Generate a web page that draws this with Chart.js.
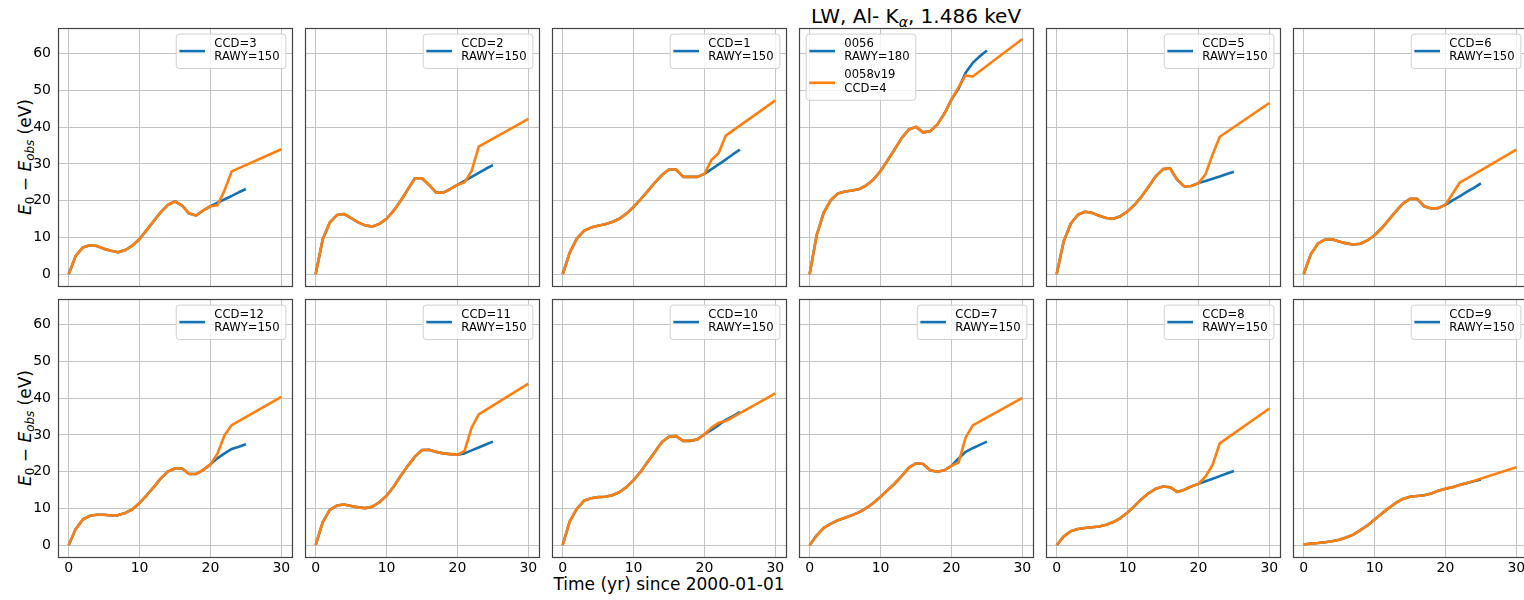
<!DOCTYPE html>
<html>
<head>
<meta charset="utf-8">
<script src="https://cdn.jsdelivr.net/npm/chart.js@4.4.1/dist/chart.umd.min.js"></script>
<style>
  html, body { margin: 0; padding: 0; background: #fff; width: 1524px; height: 600px; overflow: hidden; position: relative; }
  canvas { position: absolute; }
  .txt { position: absolute; font-family: "DejaVu Sans", sans-serif; color: #000; white-space: nowrap; }
  .txt sub { font-size: 70%; vertical-align: -0.28em; line-height: 0; }
  .ylab { font-size: 17px; line-height: 20px; transform: translate(-50%, -50%) rotate(-90deg); }
</style>
</head>
<body>
<div class="txt" style="left:799px;width:234px;top:4px;text-align:center;font-size:20px;line-height:24px;">LW, Al- K<sub><i>α</i></sub>, 1.486 keV</div>
<div class="txt ylab" style="left:25px;top:157px;"><i>E</i><sub>0</sub> − <i>E</i><sub><i>obs</i></sub> (eV)</div>
<div class="txt ylab" style="left:25px;top:428px;"><i>E</i><sub>0</sub> − <i>E</i><sub><i>obs</i></sub> (eV)</div>
<div class="txt" style="left:552px;width:234px;top:574px;text-align:center;font-size:17px;line-height:20px;">Time (yr) since 2000-01-01</div>

<script>
// Time axis (years since 2000-01-01)
const YEARS_OBS   = [0,1,2,3,4,5,6,7,8,9,10,11,12,13,14,15,16,17,18,19,20,21,22,23,24,25];
const YEARS_MODEL = [0,1,2,3,4,5,6,7,8,9,10,11,12,13,14,15,16,17,18,19,20,21,22,23,30];
const X_TICKS = [0, 10, 20, 30];
const Y_TICKS = [0, 10, 20, 30, 40, 50, 60];

// E0 - Eobs (eV) per chip, first row
const CCD3_OBS    = [0,5.0,7.3,7.9,7.7,6.9,6.4,6.0,6.6,7.8,9.6,12.0,14.5,16.9,18.9,19.8,18.7,16.5,16.0,17.4,18.5,19.5,20.4,21.3,22.3,23.2];
const CCD3_MODEL  = [0,5.0,7.3,7.9,7.7,6.9,6.4,6.0,6.6,7.8,9.6,12.0,14.5,16.9,18.9,19.8,18.7,16.5,16.0,17.4,18.5,18.8,22.9,28.0,34.0];
const CCD2_OBS    = [0,9.5,14.1,16.1,16.4,15.3,14.1,13.3,13.0,13.7,15.1,17.3,20.0,23.1,26.1,26.1,24.3,22.2,22.2,23.2,24.3,25.4,26.5,27.6,28.7,29.7];
const CCD2_MODEL  = [0,9.5,14.1,16.1,16.4,15.3,14.1,13.3,13.0,13.7,15.1,17.3,20.0,23.1,26.1,26.1,24.3,22.2,22.2,23.2,24.3,25.0,28.1,34.7,42.3];
const CCD1_OBS    = [0,5.9,9.7,11.8,12.7,13.2,13.6,14.2,15.1,16.5,18.3,20.4,22.6,24.9,27.0,28.5,28.5,26.5,26.5,26.5,27.3,28.6,29.9,31.2,32.6,33.9];
const CCD1_MODEL  = [0,5.9,9.7,11.8,12.7,13.2,13.6,14.2,15.1,16.5,18.3,20.4,22.6,24.9,27.0,28.5,28.5,26.5,26.5,26.5,27.3,31.1,33.0,37.7,47.3];
const CCD4_OBS    = [0,10.7,16.8,20.2,22.0,22.5,22.8,23.2,24.2,25.8,28.1,31.0,34.0,37.1,39.4,40.1,38.6,38.9,40.7,43.7,47.5,50.5,54.8,57.5,59.3,60.9];
const CCD4_MODEL  = [0,10.7,16.8,20.2,22.0,22.5,22.8,23.2,24.2,25.8,28.1,31.0,34.0,37.1,39.4,40.1,38.6,38.9,40.7,43.7,47.5,50.9,54.1,53.8,64.0];
const CCD5_OBS    = [0,9.0,13.8,16.2,17.0,16.7,15.9,15.3,15.1,15.8,17.1,18.9,21.2,23.9,26.7,28.6,28.8,25.7,23.9,24.0,24.8,25.4,26.0,26.6,27.3,27.9];
const CCD5_MODEL  = [0,9.0,13.8,16.2,17.0,16.7,15.9,15.3,15.1,15.8,17.1,18.9,21.2,23.9,26.7,28.6,28.8,25.7,23.9,24.0,24.8,27.2,32.6,37.4,46.6];
const CCD6_OBS    = [0,5.4,8.3,9.4,9.5,8.9,8.4,8.1,8.3,9.2,10.6,12.5,14.8,17.1,19.2,20.5,20.5,18.5,17.9,18.0,18.9,20.1,21.2,22.4,23.5,24.7];
const CCD6_MODEL  = [0,5.4,8.3,9.4,9.5,8.9,8.4,8.1,8.3,9.2,10.6,12.5,14.8,17.1,19.2,20.5,20.5,18.5,17.9,18.0,18.9,21.9,24.9,26.0,33.9];

// second row
const CCD12_OBS   = [0,4.4,7.0,8.0,8.3,8.3,8.1,8.2,8.8,9.8,11.5,13.6,15.8,18.2,20.1,20.9,20.9,19.4,19.4,20.5,22.0,23.7,25.0,26.2,26.8,27.5];
const CCD12_MODEL = [0,4.4,7.0,8.0,8.3,8.3,8.1,8.2,8.8,9.8,11.5,13.6,15.8,18.2,20.1,20.9,20.9,19.4,19.4,20.5,22.0,25.0,30.0,32.7,40.4];
const CCD11_OBS   = [0,6.3,9.6,10.8,11.1,10.7,10.3,10.1,10.5,11.7,13.5,15.9,18.9,21.6,24.1,25.9,26.0,25.4,25.0,24.8,24.6,25.0,25.8,26.6,27.4,28.2];
const CCD11_MODEL = [0,6.3,9.6,10.8,11.1,10.7,10.3,10.1,10.5,11.7,13.5,15.9,18.9,21.6,24.1,25.9,26.0,25.4,25.0,24.8,24.6,25.7,32.0,35.6,44.0];
const CCD10_OBS   = [0,6.5,9.9,12.1,12.8,13.1,13.2,13.6,14.4,15.8,17.7,20.0,22.7,25.4,28.1,29.5,29.7,28.4,28.4,28.8,30.2,31.4,32.7,34.1,35.1,36.3];
const CCD10_MODEL = [0,6.5,9.9,12.1,12.8,13.1,13.2,13.6,14.4,15.8,17.7,20.0,22.7,25.4,28.1,29.5,29.7,28.4,28.4,28.8,30.2,32.0,33.3,33.8,41.3];
const CCD7_OBS    = [0,2.7,4.7,5.9,6.8,7.5,8.2,9.0,10.1,11.5,13.2,15.0,16.8,18.9,21.1,22.3,22.1,20.4,20.0,20.4,21.6,23.6,25.4,26.4,27.3,28.2];
const CCD7_MODEL  = [0,2.7,4.7,5.9,6.8,7.5,8.2,9.0,10.1,11.5,13.2,15.0,16.8,18.9,21.1,22.3,22.1,20.4,20.0,20.4,21.6,22.5,29.3,32.6,40.1];
const CCD8_OBS    = [0,2.4,3.8,4.4,4.7,4.9,5.1,5.6,6.3,7.4,8.9,10.7,12.6,14.2,15.4,16.0,15.8,14.5,15.1,16.0,16.7,17.4,18.1,18.8,19.5,20.2];
const CCD8_MODEL  = [0,2.4,3.8,4.4,4.7,4.9,5.1,5.6,6.3,7.4,8.9,10.7,12.6,14.2,15.4,16.0,15.8,14.5,15.1,16.0,16.7,18.7,21.9,27.7,37.2];
const CCD9_OBS    = [0.2,0.45,0.6,0.8,1.1,1.5,2.1,2.9,4.1,5.4,7.0,8.6,10.1,11.5,12.6,13.2,13.4,13.6,14.1,14.8,15.4,15.8,16.4,16.9,17.4,17.9];
const CCD9_MODEL  = [0.2,0.45,0.6,0.8,1.1,1.5,2.1,2.9,4.1,5.4,7.0,8.6,10.1,11.5,12.6,13.2,13.4,13.6,14.1,14.8,15.4,15.8,16.4,16.9,21.2];

// legend texts
const OBS_LABELS = ['CCD=3\nRAWY=150','CCD=2\nRAWY=150','CCD=1\nRAWY=150','0056\nRAWY=180','CCD=5\nRAWY=150','CCD=6\nRAWY=150',
                    'CCD=12\nRAWY=150','CCD=11\nRAWY=150','CCD=10\nRAWY=150','CCD=7\nRAWY=150','CCD=8\nRAWY=150','CCD=9\nRAWY=150'];
const MODEL_LABELS = ['','','','0058v19\nCCD=4','','','','','','','',''];

const PANELS = [
  [CCD3_OBS, CCD3_MODEL], [CCD2_OBS, CCD2_MODEL], [CCD1_OBS, CCD1_MODEL],
  [CCD4_OBS, CCD4_MODEL], [CCD5_OBS, CCD5_MODEL], [CCD6_OBS, CCD6_MODEL],
  [CCD12_OBS, CCD12_MODEL], [CCD11_OBS, CCD11_MODEL], [CCD10_OBS, CCD10_MODEL],
  [CCD7_OBS, CCD7_MODEL], [CCD8_OBS, CCD8_MODEL], [CCD9_OBS, CCD9_MODEL]
];

// grid geometry (plot-frame sizes)
const PW = 234, PH = 258;
const X0 = 58, DX = 247;
const ROW_TOP = [28, 299];
const L = 52, T = 14, R = 14, B = 26;

const BLUE = '#1472b4';
const ORANGE = '#ff7f0e';
const GRID = '#c4c4c4';
const FONT = '"DejaVu Sans", sans-serif';

// axes frame on all four sides
const framePlugin = {
  id: 'frame',
  afterDraw(chart) {
    const a = chart.chartArea, ctx = chart.ctx;
    ctx.save();
    ctx.strokeStyle = '#444';
    ctx.lineWidth = 1.2;
    ctx.strokeRect(Math.round(a.left) + 0.5, Math.round(a.top) + 0.5, Math.round(a.right - a.left), Math.round(a.bottom - a.top));
    ctx.restore();
  }
};

// boxed legend inside the plot area with multi-line entries
const boxLegend = {
  id: 'boxLegend',
  afterDraw(chart, args, opts) {
    const ctx = chart.ctx, a = chart.chartArea;
    const entries = chart.data.datasets
      .filter(d => d.label)
      .map(d => ({ lines: d.label.split('\n'), color: d.borderColor }));
    if (!entries.length) return;
    ctx.save();
    ctx.font = '11.6px ' + FONT;
    const lineH = 13.4, entryGap = 18.3;
    let maxW = 0;
    entries.forEach(e => e.lines.forEach(t => { maxW = Math.max(maxW, ctx.measureText(t).width); }));
    let inner = 0;
    entries.forEach((e, i) => { inner += (e.lines.length - 1) * lineH; if (i > 0) inner += entryGap; });
    const h = 10 + inner + 11;
    const w = 38.6 + maxW + 5.8;
    const top = a.top + 5.6;
    const left = opts.align === 'left' ? a.left + 6.7 : a.right - 6.6 - w;
    ctx.beginPath();
    ctx.roundRect(left + 0.5, top + 0.5, w, h, 3);
    ctx.fillStyle = 'rgba(255,255,255,0.8)';
    ctx.fill();
    ctx.strokeStyle = '#d0d0d0';
    ctx.lineWidth = 1;
    ctx.stroke();
    let y = top + 10;
    entries.forEach((e, i) => {
      if (i > 0) y += entryGap;
      const first = y;
      e.lines.forEach((t, j) => {
        ctx.fillStyle = '#000';
        ctx.textBaseline = 'middle';
        ctx.textAlign = 'left';
        ctx.fillText(t, left + 38.6, y);
        if (j < e.lines.length - 1) y += lineH;
      });
      const mid = (first + y) / 2 + 0.8;
      ctx.beginPath();
      ctx.moveTo(left + 3.6, mid);
      ctx.lineTo(left + 29.3, mid);
      ctx.strokeStyle = e.color;
      ctx.lineWidth = 2.6;
      ctx.stroke();
    });
    ctx.restore();
  }
};

function fixedSize(prop, size) {
  return function (scale) {
    scale[prop] = size;
    scale.paddingTop = scale.paddingBottom = scale.paddingLeft = scale.paddingRight = 0;
  };
}

function makePanel(idx) {
  const row = Math.floor(idx / 6), col = idx % 6;
  const canvas = document.createElement('canvas');
  canvas.width = PW + L + R;
  canvas.height = PH + T + B;
  canvas.style.left = (X0 + col * DX - L) + 'px';
  canvas.style.top = (ROW_TOP[row] - T) + 'px';
  document.body.appendChild(canvas);

  const [obs, model] = PANELS[idx];
  new Chart(canvas, {
    type: 'line',
    data: {
      datasets: [
        { label: OBS_LABELS[idx], data: YEARS_OBS.map((x, i) => ({ x, y: obs[i] })), borderColor: BLUE, order: 2 },
        { label: MODEL_LABELS[idx], data: YEARS_MODEL.map((x, i) => ({ x, y: model[i] })), borderColor: ORANGE, order: 1 }
      ]
    },
    options: {
      responsive: false,
      animation: false,
      devicePixelRatio: 1,
      layout: { padding: { top: T, right: R, left: 0, bottom: 0 } },
      elements: {
        point: { radius: 0 },
        line: { borderWidth: 2.6, tension: 0, borderJoinStyle: 'round', borderCapStyle: 'butt' }
      },
      plugins: {
        legend: { display: false },
        tooltip: { enabled: false },
        boxLegend: { align: idx === 3 ? 'left' : 'right' }
      },
      scales: {
        x: {
          type: 'linear', min: -1.5, max: 31.5,
          afterBuildTicks: s => { s.ticks = X_TICKS.map(v => ({ value: v })); },
          afterFit: fixedSize('height', B),
          grid: { color: GRID, lineWidth: 1, drawTicks: false },
          border: { display: false },
          ticks: { display: row === 1, padding: 3, color: '#000', maxRotation: 0, font: { family: FONT, size: 14 } }
        },
        y: {
          type: 'linear', min: -3.2, max: 67.0,
          afterBuildTicks: s => { s.ticks = Y_TICKS.map(v => ({ value: v })); },
          afterFit: fixedSize('width', L),
          grid: { color: GRID, lineWidth: 1, drawTicks: false },
          border: { display: false },
          ticks: { display: col === 0, padding: 7, color: '#000', font: { family: FONT, size: 14 } }
        }
      }
    },
    plugins: [framePlugin, boxLegend]
  });
}

for (let i = 0; i < PANELS.length; i++) makePanel(i);
</script>
</body>
</html>
